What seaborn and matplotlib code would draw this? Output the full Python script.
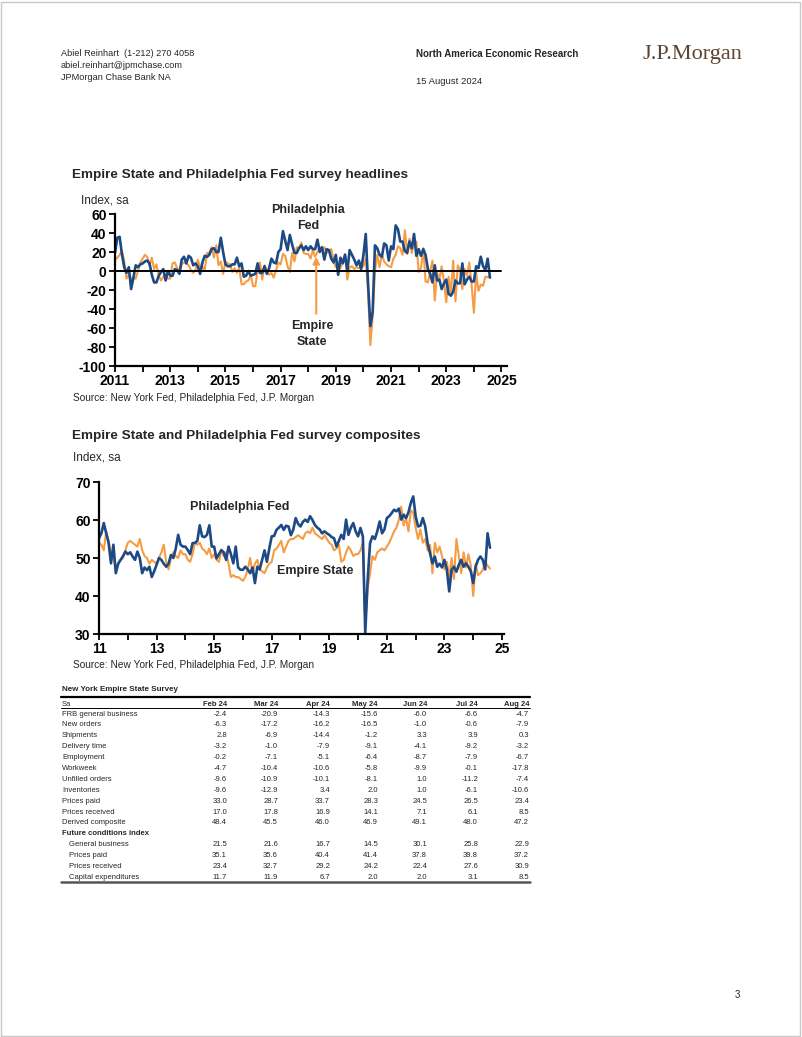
import numpy as np
import pandas as pd
import matplotlib
matplotlib.use('Agg')
import matplotlib.pyplot as plt
import seaborn as sns
from matplotlib.patches import Rectangle

W, H = 802, 1037

# monthly data, Jan 2011 - Aug 2024 (index, sa)
philly_head = [19, 35, 36, 18, 4, -2, 4, -19, -7, 6, 4, 7,
               8, 10, 11, 8, -4, -12, -12, -5, -1, 2, -10, 0,
               -5, -5, 2, 1, -3, 12, 15, 8, 16, 14, 6, 8,
               5, -3, 9, 16, 15, 17, 23, 24, 20, 20, 35, 20,
               7, 5, 5, 7, 7, 14, 5, 8, -6, -5, 0, -5,
               -4, -3, 8, -2, -2, 5, -3, 3, 13, 9, 8, 20,
               23, 42, 32, 22, 38, 28, 19, 19, 24, 27, 22, 26,
               22, 26, 23, 23, 33, 20, 25, 12, 23, 22, 13, 9,
               17, -4, 14, 8, 17, 0, 22, 17, 12, 6, 11, 2,
               17, 39, -13, -58, -43, 27, 24, 17, 15, 29, 27, 11,
               26, 23, 48, 44, 31, 31, 21, 19, 31, 24, 39, 16,
               23, 16, 23, 17, 2, -3, -12, 6, -10, -9, -19, -13,
               -9, -24, -26, -22, -10, -13, -13, 8, -14, -9, -6, -11,
               -11, 5, 3, 15, 5, 1, 13, -7]
empire_head = [12, 14, 17, 21, 11, -8, -4, -8, -8, -8, 0, 9,
               13, 17, 15, 6, 14, 2, 7, -5, -10, -6, -5, -8,
               -8, 8, 9, 3, -1, 7, 9, 8, 6, 1, -2, 1,
               12, 4, 5, 1, 19, 19, 25, 14, 27, 6, 10, -3,
               10, 8, 7, -1, 3, -2, 4, -14, -14, -11, -10, -4,
               -16, -16, 1, 9, -9, 6, 0, -4, -2, -7, 1, 9,
               7, 18, 16, 5, -1, 19, 10, 25, 24, 30, 19, 18,
               18, 13, 22, 15, 20, 25, 22, 25, 19, 21, 23, 11,
               4, 9, 3, 10, 18, -9, 4, 5, 2, 4, 3, 4,
               5, 13, -21, -78, -48, 0, 17, 4, 17, 10, 7, 5,
               4, 13, 17, 26, 24, 17, 43, 18, 34, 19, 30, 31,
               -1, 3, 24, -11, -12, -1, 11, -31, -2, -9, 5, -11,
               -33, -6, -24, 11, -32, 6, 1, -19, 2, -5, 9, -14,
               -44, -2.4, -20.9, -14.3, -15.6, -6.0, -6.6, -4.7]
philly_comp = [55.2, 56.5, 59.2, 56.5, 54.0, 48.6, 53.5, 46.0, 48.5, 49.5, 50.5, 51.7,
               51.0, 51.5, 50.4, 49.5, 51.7, 50.0, 46.0, 47.5, 46.8, 47.7, 45.0, 46.5,
               48.2, 50.0, 49.5, 48.5, 47.7, 48.5, 50.8, 50.0, 52.5, 56.1, 53.5, 53.0,
               53.0, 52.1, 51.0, 53.9, 54.0, 54.5, 58.6, 55.7, 55.5, 56.1, 58.6, 53.0,
               53.0, 49.9, 51.0, 52.1, 51.5, 49.5, 53.0, 51.0, 48.6, 53.0, 47.5, 46.9,
               46.9, 47.7, 47.0, 46.0, 47.5, 43.4, 47.7, 47.0, 49.5, 52.0, 49.0, 52.5,
               55.7, 55.8, 57.4, 58.0, 58.7, 57.4, 58.5, 58.3, 56.0, 57.5, 60.5, 59.0,
               58.3, 59.5, 60.1, 59.5, 61.0, 60.0, 58.7, 58.0, 57.5, 56.5, 57.0, 56.5,
               56.1, 55.5, 55.2, 53.0, 54.5, 56.1, 55.0, 60.1, 56.1, 58.0, 59.2, 57.0,
               55.7, 57.9, 55.7, 30.2, 44.2, 53.9, 55.7, 55.0, 57.0, 59.6, 56.5, 57.5,
               60.5, 61.0, 61.8, 62.7, 62.3, 63.0, 60.1, 61.4, 60.5, 62.0, 64.5, 66.2,
               61.0, 58.3, 58.5, 60.5, 58.3, 53.9, 51.3, 48.6, 50.4, 47.7, 48.5, 47.5,
               49.5, 47.0, 41.2, 46.9, 47.7, 46.4, 48.2, 49.5, 47.7, 48.6, 47.7, 46.5,
               43.4, 47.7, 49.5, 50.4, 49.5, 47.0, 56.5, 52.7]
empire_comp = [54.0, 53.5, 52.0, 57.0, 54.5, 51.0, 50.5, 47.0, 48.5, 49.5, 50.0, 52.0,
               54.0, 54.5, 54.0, 53.5, 53.0, 55.0, 52.0, 50.5, 50.0, 48.5, 49.5, 49.0,
               48.5, 50.0, 51.5, 53.5, 49.0, 47.0, 50.0, 51.5, 50.5, 50.0, 52.0, 51.0,
               51.0, 49.5, 49.0, 51.0, 54.0, 53.5, 54.0, 52.5, 52.0, 51.0, 52.5, 50.0,
               51.0, 49.5, 49.0, 52.0, 50.5, 51.5, 48.5, 45.0, 45.5, 45.0, 45.0, 44.5,
               44.0, 45.0, 47.0, 50.0, 46.0, 48.5, 49.5, 47.0, 46.5, 46.0, 47.5, 48.5,
               49.0, 52.0, 52.5, 53.5, 54.5, 51.5, 53.0, 54.5, 55.0, 55.0, 55.5, 56.0,
               55.5, 55.0, 56.5, 57.0, 56.5, 58.0, 56.5, 56.0, 55.5, 55.0, 56.0, 55.0,
               54.0, 53.5, 52.0, 52.5, 53.5, 49.0, 49.5, 51.5, 53.0, 52.0, 50.5, 51.0,
               51.0, 52.0, 54.0, 33.0, 42.0, 46.0, 50.5, 49.5, 51.5, 52.0, 52.5, 52.0,
               53.0, 54.0, 55.5, 57.0, 58.0, 60.0, 63.5, 58.5, 60.5, 57.0, 62.5, 62.0,
               58.0, 55.0, 57.5, 54.0, 55.0, 52.0, 53.5, 46.0, 54.0, 51.5, 53.0, 50.5,
               47.0, 49.0, 45.0, 50.0, 44.5, 55.0, 50.5, 46.0, 51.5, 47.5, 51.0, 48.0,
               40.0, 48.4, 45.5, 46.0, 46.9, 49.1, 48.0, 47.2]

# table
tbl_cols = ['Feb 24', 'Mar 24', 'Apr 24', 'May 24', 'Jun 24', 'Jul 24', 'Aug 24']
tbl_rows = ['FRB general business', 'New orders', 'Shipments', 'Delivery time', 'Employment',
            'Workweek', 'Unfilled orders', 'Inventories', 'Prices paid', 'Prices received',
            'Derived composite', 'Future conditions index', 'General business', 'Prices paid',
            'Prices received', 'Capital expenditures']
tbl_vals = [[-2.4, -20.9, -14.3, -15.6, -6.0, -6.6, -4.7],
            [-6.3, -17.2, -16.2, -16.5, -1.0, -0.6, -7.9],
            [2.8, -6.9, -14.4, -1.2, 3.3, 3.9, 0.3],
            [-3.2, -1.0, -7.9, -9.1, -4.1, -9.2, -3.2],
            [-0.2, -7.1, -5.1, -6.4, -8.7, -7.9, -6.7],
            [-4.7, -10.4, -10.6, -5.8, -9.9, -0.1, -17.8],
            [-9.6, -10.9, -10.1, -8.1, 1.0, -11.2, -7.4],
            [-9.6, -12.9, 3.4, 2.0, 1.0, -6.1, -10.6],
            [33.0, 28.7, 33.7, 28.3, 24.5, 26.5, 23.4],
            [17.0, 17.8, 16.9, 14.1, 7.1, 6.1, 8.5],
            [48.4, 45.5, 46.0, 46.9, 49.1, 48.0, 47.2],
            None,
            [21.5, 21.6, 16.7, 14.5, 30.1, 25.8, 22.9],
            [35.1, 35.6, 40.4, 41.4, 37.8, 39.8, 37.2],
            [23.4, 32.7, 29.2, 24.2, 22.4, 27.6, 30.9],
            [11.7, 11.9, 6.7, 2.0, 2.0, 3.1, 8.5]]

BLUE = '#1d4a85'
ORANGE = '#f59c45'

sns.set_theme(style='white')
plt.rcParams['font.family'] = ['Liberation Sans', 'DejaVu Sans']
plt.rcParams['axes.unicode_minus'] = False

dates = pd.date_range('2011-01-01', periods=len(philly_head), freq='MS')
yrs = dates.year + (dates.month - 1) / 12
df_head = pd.DataFrame({'yr': yrs, 'philly': philly_head, 'empire': empire_head})
df_comp = pd.DataFrame({'yr': yrs, 'philly': philly_comp, 'empire': empire_comp})

fig = plt.figure(figsize=(W / 100, H / 100), dpi=100)


def ftext(x, y, s, **kw):
    kw.setdefault('va', 'center')
    return fig.text(x / W, 1 - y / H, s, **kw)


def add_ax(l, t, r, b):
    return fig.add_axes([l / W, 1 - b / H, (r - l) / W, (b - t) / H])


def hline(x0, x1, y, lw=1, color='black'):
    fig.add_artist(plt.Line2D([x0 / W, x1 / W], [1 - y / H, 1 - y / H], lw=lw, color=color))


def style_ax(ax):
    for s in ['top', 'right']:
        ax.spines[s].set_visible(False)
    for s in ['left', 'bottom']:
        ax.spines[s].set_color('black')
        ax.spines[s].set_linewidth(1.6)
    ax.tick_params(direction='out', length=4, width=1.3, colors='black', pad=2,
                   labelsize=10, left=True, bottom=True)
    for lab in ax.get_xticklabels() + ax.get_yticklabels():
        lab.set_fontweight('bold')
    ax.set_xlabel('')
    ax.set_ylabel('')
    ax.patch.set_alpha(0)


# page frame
fig.add_artist(Rectangle((1 / W, 1 / H), (W - 3) / W, (H - 3) / H, fill=False,
                         edgecolor='#c8c8c8', lw=1))

# header
ftext(61, 53, 'Abiel Reinhart  (1-212) 270 4058', fontsize=6.6)
ftext(61, 65, 'abiel.reinhart@jpmchase.com', fontsize=6.6)
ftext(61, 77, 'JPMorgan Chase Bank NA', fontsize=6.6)
ftext(416, 54, 'North America Economic Research', fontsize=7.0, fontweight='bold')
ftext(416, 81, '15 August 2024', fontsize=6.8)
ftext(692, 55, 'J.P.Morgan', fontsize=16, ha='center', color='#5a4434',
      family=['Liberation Serif', 'DejaVu Serif'])
ftext(737, 995, '3', fontsize=7, ha='center')

# chart 1: headlines
ftext(72, 175, 'Empire State and Philadelphia Fed survey headlines', fontsize=9.7, fontweight='bold')
ftext(81, 200, 'Index, sa', fontsize=8.5)
ax1 = add_ax(115, 214, 507, 366)
sns.lineplot(data=df_head, x='yr', y='empire', ax=ax1, color=ORANGE, lw=1.5)
sns.lineplot(data=df_head, x='yr', y='philly', ax=ax1, color=BLUE, lw=1.9)
ax1.axhline(0, xmin=0, xmax=(2025 - 2011) / (2025.2 - 2011), color='black', lw=1.4)
ax1.set_xlim(2011, 2025.2)
ax1.set_ylim(-100, 60)
ax1.set_yticks(np.arange(-100, 61, 20))
ax1.set_xticks(np.arange(2011, 2026))
ax1.set_xticklabels([str(y) if (y - 2011) % 2 == 0 else '' for y in range(2011, 2026)])
style_ax(ax1)
ax1.annotate('', xy=(2018.29, 15), xytext=(2018.29, -45),
             arrowprops=dict(arrowstyle='-|>', color=ORANGE, lw=1.5, mutation_scale=10,
                             shrinkA=0, shrinkB=0))
ftext(308, 218, 'Philadelphia\nFed', fontsize=9, fontweight='bold', ha='center',
      linespacing=1.45)
ftext(312, 334, 'Empire\nState', fontsize=9, fontweight='bold', ha='center',
      linespacing=1.4)
ftext(73, 398, 'Source: New York Fed, Philadelphia Fed, J.P. Morgan', fontsize=7.3)

# chart 2: composites
ftext(72, 436, 'Empire State and Philadelphia Fed survey composites', fontsize=9.7, fontweight='bold')
ftext(73, 458, 'Index, sa', fontsize=8.5)
ax2 = add_ax(99, 482, 504, 634)
sns.lineplot(data=df_comp, x='yr', y='empire', ax=ax2, color=ORANGE, lw=1.5)
sns.lineplot(data=df_comp, x='yr', y='philly', ax=ax2, color=BLUE, lw=1.9)
ax2.set_xlim(2011, 2025.07)
ax2.set_ylim(30, 70)
ax2.set_yticks(np.arange(30, 71, 10))
ax2.set_xticks(np.arange(2011, 2026))
ax2.set_xticklabels([str(y % 100) if (y - 2011) % 2 == 0 else '' for y in range(2011, 2026)])
style_ax(ax2)
ftext(240, 507, 'Philadelphia Fed', fontsize=9, fontweight='bold', ha='center')
ftext(315, 571, 'Empire State', fontsize=9, fontweight='bold', ha='center')
ftext(73, 665, 'Source: New York Fed, Philadelphia Fed, J.P. Morgan', fontsize=7.3)

# table
FS = 5.5
col_x = [227, 278, 330, 378, 427, 478, 529]
ftext(62, 691, 'New York Empire State Survey', fontsize=5.8, fontweight='bold',
      va='baseline')
hline(61, 530, 696.5, lw=1.6)
ftext(62, 705.5, 'Sa', fontsize=FS, va='baseline')
for cx, c in zip(col_x, tbl_cols):
    ftext(cx, 705.5, c, fontsize=FS, fontweight='bold', ha='right', va='baseline')
hline(61, 530, 707.5, lw=0.7)
for i, (name, vals) in enumerate(zip(tbl_rows, tbl_vals)):
    yb = 715.5 + 10.9 * i
    if vals is None:
        ftext(62, yb, name, fontsize=FS, fontweight='bold', va='baseline')
        continue
    x0 = 69 if i > 11 else 62
    ftext(x0, yb, name, fontsize=FS, va='baseline')
    for cx, v in zip(col_x, vals):
        ftext(cx, yb, f'{v:.1f}', fontsize=FS, ha='right', va='baseline')
hline(61, 530, 882, lw=1.8, color='#555555')

fig.savefig('out.png', dpi=100)
